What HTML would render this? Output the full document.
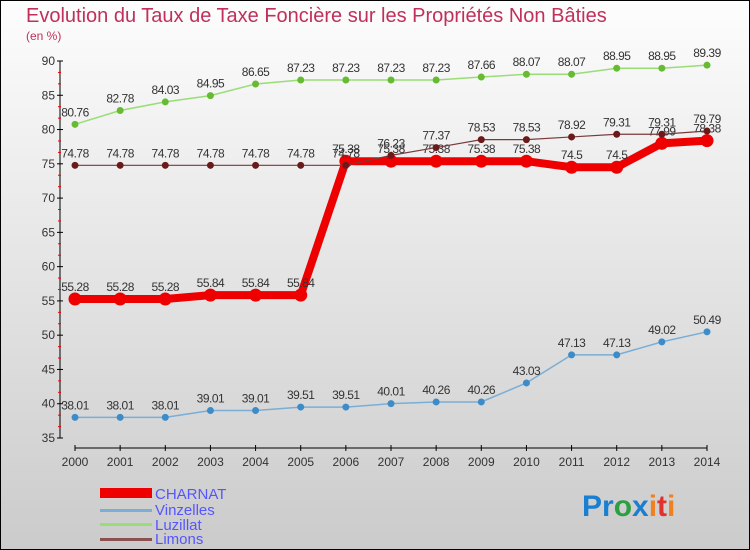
<!DOCTYPE html>
<html><head><meta charset="utf-8"><style>
body{margin:0;}
#wrap{position:relative;width:750px;height:550px;overflow:hidden;}
svg{display:block;font-family:"Liberation Sans",sans-serif;}
</style></head><body>
<div id="wrap">
<svg id="chart" width="750" height="550">
<defs><linearGradient id="bg" x1="0" y1="0" x2="0" y2="1"><stop offset="0" stop-color="#fdfdfd"/><stop offset="1" stop-color="#cbcbcb"/></linearGradient></defs>
<rect x="0.5" y="0.5" width="749" height="549" fill="url(#bg)" stroke="#000"/>
<text x="26" y="22" font-size="20" fill="#c0305a">Evolution du Taux de Taxe Foncière sur les Propriétés Non Bâties</text>
<text x="26" y="40" font-size="12" fill="#c0305a">(en %)</text>
<g id="axes"></g><g id="series"></g>
<g>
<rect x="100" y="488" width="52" height="10" fill="#e00"/>
<text x="155" y="499" font-size="15" fill="#5555ff">CHARNAT</text>
<rect x="100" y="509" width="52" height="3" fill="#7aaed6"/>
<text x="155" y="515" font-size="15" fill="#5555ff">Vinzelles</text>
<rect x="100" y="523" width="52" height="3" fill="#99dd77"/>
<text x="155" y="530" font-size="15" fill="#5555ff">Luzillat</text>
<rect x="100" y="538" width="52" height="3" fill="#8a5050"/>
<text x="155" y="544" font-size="15" fill="#5555ff">Limons</text>
</g>
<text x="582" y="516" font-size="30" font-weight="bold"><tspan fill="#1a7fd0">Pr</tspan><tspan fill="#2aa040">o</tspan><tspan fill="#1a7fd0">x</tspan><tspan fill="#f08020">i</tspan><tspan fill="#e03030">t</tspan><tspan fill="#f08020">i</tspan></text>
</svg></div>
<script>
const years=[2000,2001,2002,2003,2004,2005,2006,2007,2008,2009,2010,2011,2012,2013,2014];
const charnat=[55.28,55.28,55.28,55.84,55.84,55.84,75.38,75.38,75.38,75.38,75.38,74.5,74.5,77.99,78.38];
const vinzelles=[38.01,38.01,38.01,39.01,39.01,39.51,39.51,40.01,40.26,40.26,43.03,47.13,47.13,49.02,50.49];
const luzillat=[80.76,82.78,84.03,84.95,86.65,87.23,87.23,87.23,87.23,87.66,88.07,88.07,88.95,88.95,89.39];
const limons=[74.78,74.78,74.78,74.78,74.78,74.78,74.78,76.23,77.37,78.53,78.53,78.92,79.31,79.31,79.79];
const yTicks=[35,40,45,50,55,60,65,70,75,80,85,90];
const NS="http://www.w3.org/2000/svg";
const xS=i=>75+i*(707-75)/(years.length-1);
const yS=v=>438-(v-35)*(438-61)/55;
function mk(tag,attrs,parent,text){const e=document.createElementNS(NS,tag);for(const k in attrs)e.setAttribute(k,attrs[k]);if(text!==undefined)e.textContent=text;parent.appendChild(e);return e;}
const ax=document.getElementById('axes');
let a=mk('line',{x1:60,y1:61,x2:60,y2:438,stroke:'#000'},ax);


a=mk('line',{x1:75,y1:448,x2:707,y2:448,stroke:'#000'},ax);


yTicks.forEach((t,i)=>{const y=yS(t);
 let l=mk('line',{x1:57,y1:y,x2:63,y2:y,stroke:'#000'},ax);
 
 
 let tx=mk('text',{x:55,y:y+4,'font-size':12,fill:'#333','text-anchor':'end'},ax,String(t));
 
 
 if(i<yTicks.length-1){for(let k=1;k<=2;k++){const my=yS(t+k*5/3);let m=mk('line',{x1:58,y1:my,x2:61,y2:my,stroke:'#e00'},ax);
  
  }}
});
years.forEach((yr,i)=>{const x=xS(i);
 let l=mk('line',{x1:x,y1:445,x2:x,y2:451,stroke:'#000'},ax);
 
 
 let tx=mk('text',{x:x,y:466,'font-size':12,fill:'#333','text-anchor':'middle'},ax,String(yr));
 
 
});
const sg=document.getElementById('series');
function draw(vals,name,color,dot,lw,r){
 const g=mk('g',{},sg);
 
 
 const p=mk('polyline',{points:vals.map((v,i)=>xS(i)+','+yS(v)).join(' '),fill:'none',stroke:color,'stroke-width':lw},g);
 
 
 vals.forEach((v,i)=>{
  const c=mk('circle',{cx:xS(i),cy:yS(v),r:r,fill:dot},g);
  
  
  const t=mk('text',{x:xS(i),y:yS(v)-8,'font-size':12,fill:'#333','text-anchor':'middle','letter-spacing':'-0.5'},g,String(v));
  
  
 });
}
draw(vinzelles,'vinzelles','#7aaed6','#3d8cc8',1.5,3.5);
draw(luzillat,'luzillat','#99dd77','#66bb33',1.5,3.5);
draw(charnat,'charnat','#e00','#e00',8,6.5);
draw(limons,'limons','#7a3a3a','#6a1a1a',1.2,3.5);
</script>
</body></html>
